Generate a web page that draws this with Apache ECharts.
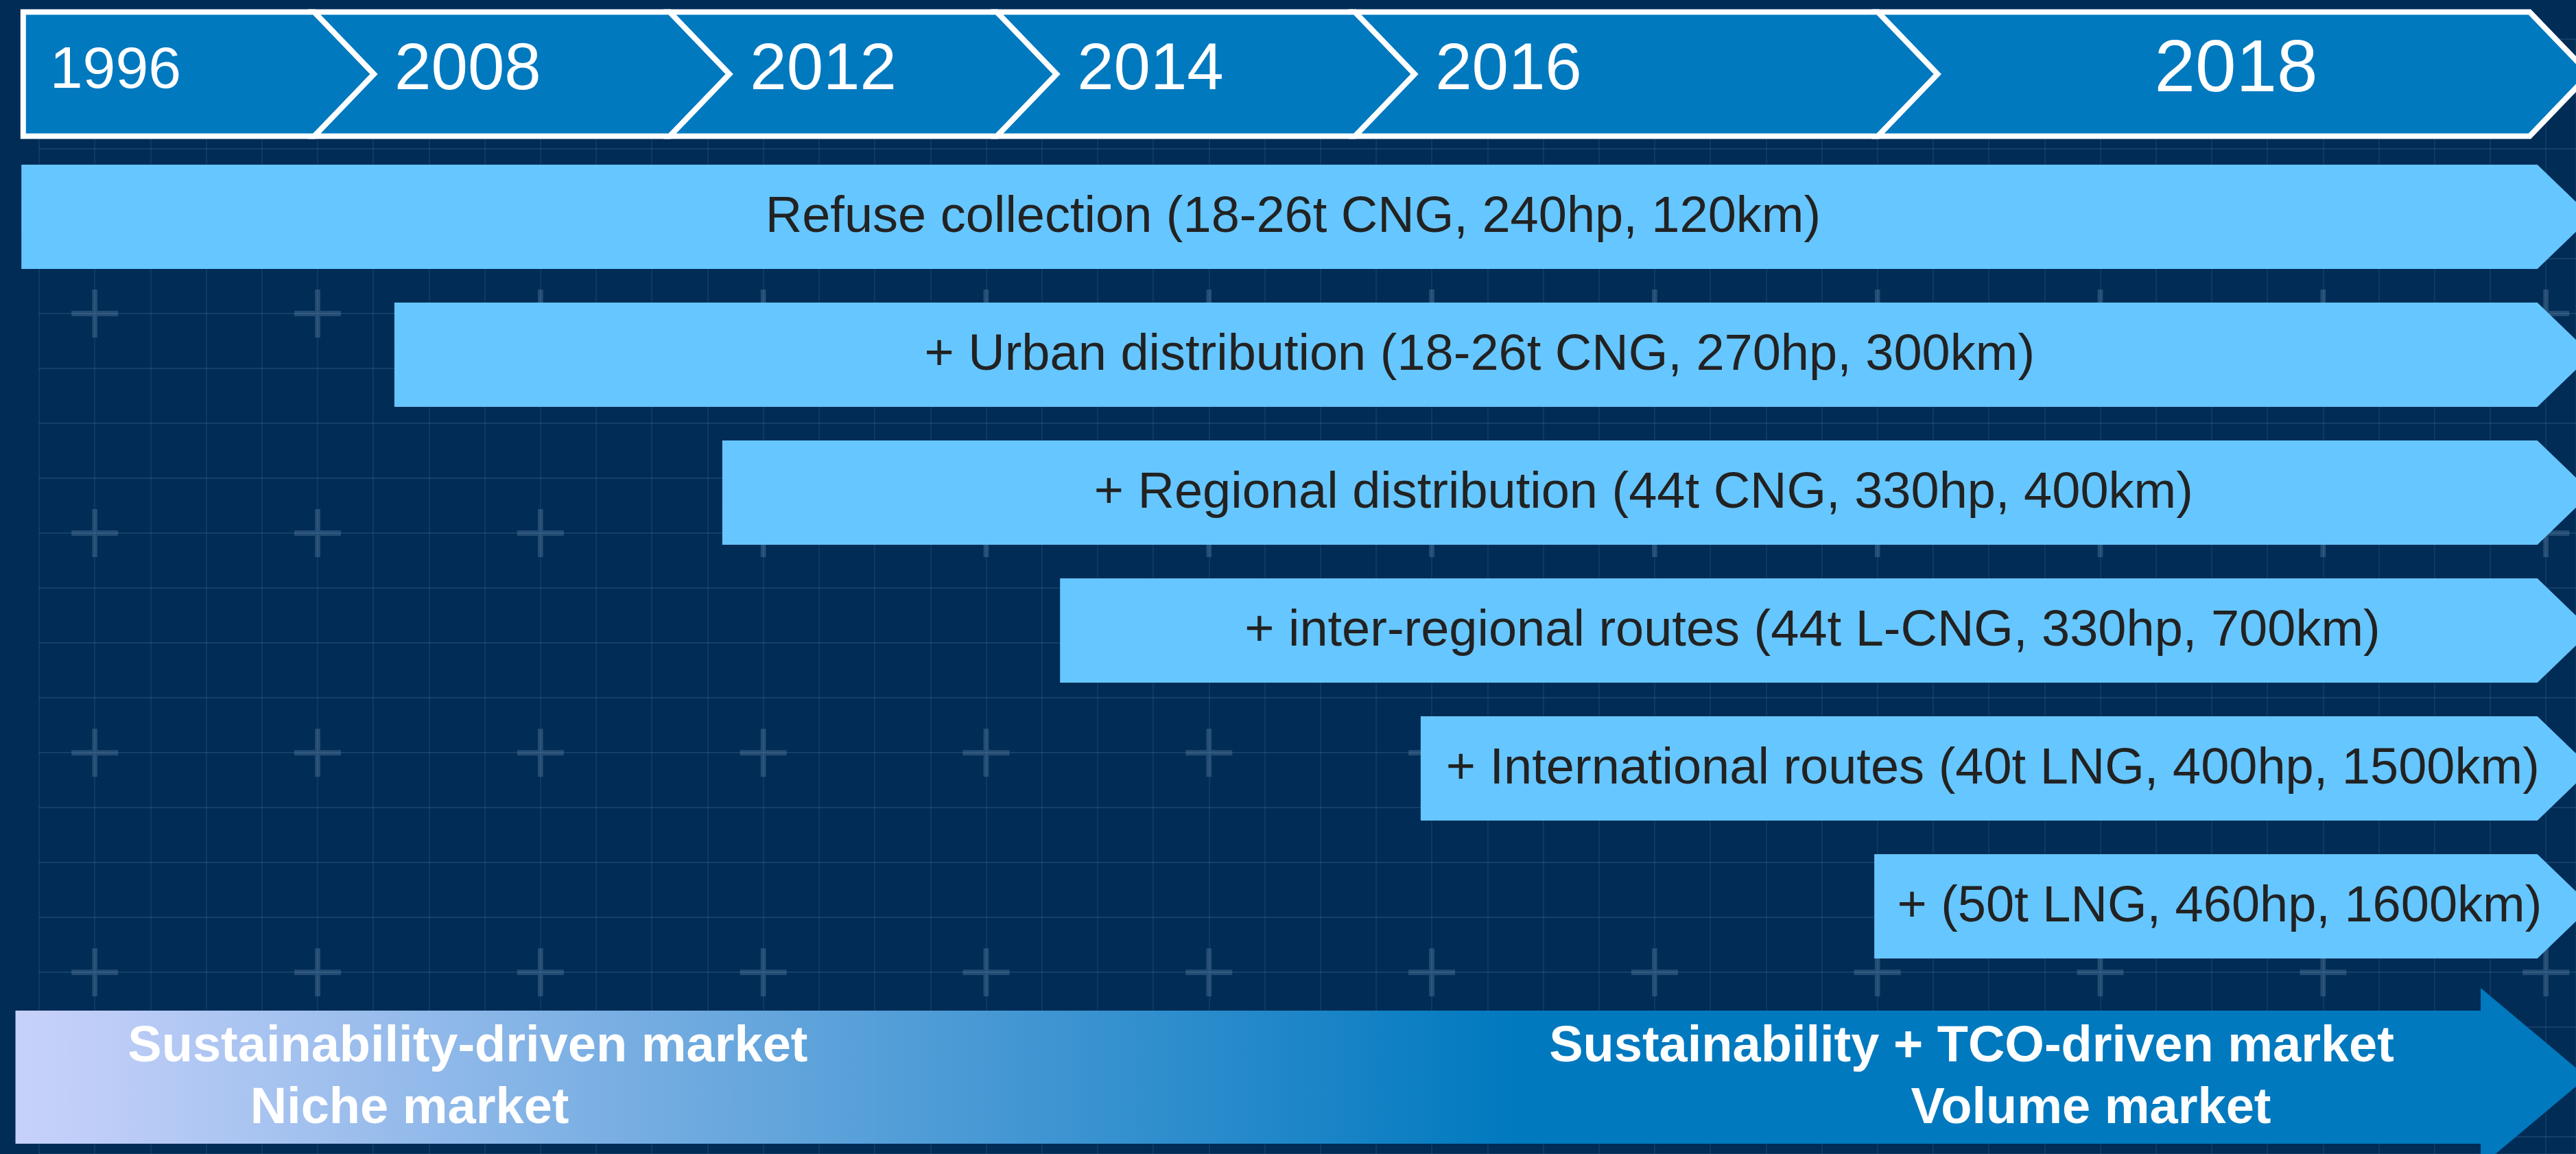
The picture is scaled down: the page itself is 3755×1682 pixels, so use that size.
<!DOCTYPE html>
<html>
<head>
<meta charset="utf-8">
<style>
html, body { margin: 0; padding: 0; background: #002C56; }
#main { width: 3755px; height: 1682px; }
</style>
<script src="https://cdn.jsdelivr.net/npm/echarts@6/dist/echarts.min.js"></script>
</head>
<body>
<div id="main"></div>
<script>
// timeline stages, x in % of page width
var years = ['1996', '2008', '2012', '2014', '2016', '2018'];
var yearStart = [0.9, 12.2, 26.0, 38.7, 52.6, 72.9];
var yearEnd = 98.2;

// applications added over time
var apps = [
    'Refuse collection (18-26t CNG, 240hp, 120km)',
    '+ Urban distribution (18-26t CNG, 270hp, 300km)',
    '+ Regional distribution (44t CNG, 330hp, 400km)',
    '+ inter-regional routes (44t L-CNG, 330hp, 700km)',
    '+ International routes (40t LNG, 400hp, 1500km)',
    '+ (50t LNG, 460hp, 1600km)'
];
var appStart = [0.83, 15.31, 28.04, 41.15, 55.15, 72.76];
var appEnd = 98.5;

// market phases
var marketText = ['Sustainability-driven market', 'Niche market', 'Sustainability + TCO-driven market', 'Volume market'];
var marketLine = [0, 1, 0, 1];
var marketX = [18.16, 15.9, 76.54, 81.17];
var marketStart = 0.6;
var marketHead = 96.3;

// background crosses, in grid cells
var crossCols = [1, 5, 9, 13, 17, 21, 25, 29, 33, 37, 41, 45];
var crossRows = [1, 5, 9, 13, 17];

var YEAR_ROW = -0.035;
var MARKET_ROW = 7.239;
var FONT = '"Liberation Sans", Arial, sans-serif';

var crossData = [];
crossRows.forEach(function (r) {
    crossCols.forEach(function (c) { crossData.push([c, r]); });
});

function renderYear(params, api) {
    var i = params.dataIndex;
    var x0 = api.coord([api.value(0), YEAR_ROW])[0];
    var x1 = api.coord([api.value(1), YEAR_ROW])[0];
    var yc = api.coord([0, YEAR_ROW])[1];
    var h = api.size([0, 0.9])[1] / 2;
    var d = 87;
    var pts = [[x0, yc - h], [x1, yc - h], [x1 + d, yc], [x1, yc + h], [x0, yc + h]];
    if (i > 0) pts.push([x0 + d, yc]);
    var last = i === years.length - 1;
    var fs = i === 0 ? 86 : (last ? 107 : 96);
    var tx = last ? (x0 + x1) / 2 + 47 : x0 + (i === 0 ? 39 : 117);
    return {
        type: 'group',
        children: [{
            type: 'polygon',
            shape: {points: pts},
            style: {fill: '#0079BF', stroke: '#ffffff', lineWidth: 8}
        }, {
            type: 'text',
            style: {
                text: years[i], x: tx, y: yc - 4, fill: '#ffffff',
                font: fs + 'px ' + FONT, align: last ? 'center' : 'left', verticalAlign: 'middle'
            }
        }]
    };
}

function renderApp(params, api) {
    var i = params.dataIndex;
    var p0 = api.coord([api.value(0), api.value(2)]);
    var x1 = api.coord([api.value(1), api.value(2)])[0];
    var x0 = p0[0], yc = p0[1];
    var h = api.size([0, 0.756])[1] / 2;
    var d = 79;
    return {
        type: 'group',
        children: [{
            type: 'polygon',
            shape: {points: [[x0, yc - h], [x1, yc - h], [x1 + d, yc], [x1, yc + h], [x0, yc + h]]},
            style: {fill: '#66C6FF'}
        }, {
            type: 'text',
            style: {
                text: apps[i], x: (x0 + x1 + 40) / 2, y: yc + 2, fill: '#222222',
                font: '74px ' + FONT, align: 'center', verticalAlign: 'middle'
            }
        }]
    };
}

function renderMarket(params, api) {
    var x0 = api.coord([api.value(0), MARKET_ROW])[0];
    var p1 = api.coord([api.value(1), MARKET_ROW]);
    var x1 = p1[0], yc = p1[1];
    var hs = 97, hh = 130, d = 155;
    return {
        type: 'polygon',
        shape: {points: [[x0, yc - hs], [x1, yc - hs], [x1, yc - hh], [x1 + d, yc], [x1, yc + hh], [x1, yc + hs], [x0, yc + hs]]},
        style: {
            fill: {
                type: 'linear', x: 0, y: 0, x2: 1, y2: 0,
                colorStops: [
                    {offset: 0, color: '#C6D1F9'},
                    {offset: 0.02, color: '#C2CFF8'},
                    {offset: 0.584, color: '#0079BF'},
                    {offset: 1, color: '#0079BF'}
                ]
            }
        }
    };
}

function renderMarketText(params, api) {
    var i = params.dataIndex;
    var p = api.coord([api.value(0), MARKET_ROW]);
    return {
        type: 'text',
        style: {
            text: marketText[i], x: p[0], y: p[1] - 43 + api.value(1) * 90, fill: '#ffffff',
            font: 'bold 74px ' + FONT, align: 'center', verticalAlign: 'middle'
        }
    };
}

var chart = echarts.init(document.getElementById('main'));
var gridLine = function (c) {
    return {show: true, lineStyle: {color: c, width: 2}};
};
var option = {
    backgroundColor: '#002C56',
    animation: false,
    grid: [
        {left: 57, top: 57, right: 0, bottom: 0},
        {left: 0, right: 0, top: 14.5, bottom: 59.5}
    ],
    xAxis: [{
        type: 'value', gridIndex: 0, min: 0, max: 45.54, interval: 1,
        axisLine: {show: false}, axisTick: {show: false}, axisLabel: {show: false},
        splitLine: gridLine('rgba(100,140,185,0.14)')
    }, {
        type: 'value', gridIndex: 1, min: 0, max: 100, show: false
    }],
    yAxis: [{
        type: 'value', gridIndex: 0, min: 0, max: 20.31, interval: 1, inverse: true,
        axisLine: {show: false}, axisTick: {show: false}, axisLabel: {show: false},
        splitLine: gridLine('rgba(100,140,185,0.2)')
    }, {
        type: 'value', gridIndex: 1, min: -0.5, max: 7.5, inverse: true, show: false
    }],
    series: [{
        type: 'scatter',
        xAxisIndex: 0, yAxisIndex: 0,
        silent: true, z: 1,
        symbol: 'path://M31,0H39V31H70V39H39V70H31V39H0V31H31Z',
        symbolSize: [68, 70],
        itemStyle: {color: 'rgba(150,175,205,0.3)'},
        data: crossData
    }, {
        type: 'custom', xAxisIndex: 1, yAxisIndex: 1, z: 3, silent: true,
        renderItem: renderYear,
        data: years.map(function (y, i) {
            return [yearStart[i], i < years.length - 1 ? yearStart[i + 1] : yearEnd];
        })
    }, {
        type: 'custom', xAxisIndex: 1, yAxisIndex: 1, z: 3, silent: true,
        renderItem: renderApp,
        data: apps.map(function (a, i) { return [appStart[i], appEnd, i + 1]; })
    }, {
        type: 'custom', xAxisIndex: 1, yAxisIndex: 1, z: 3, silent: true,
        renderItem: renderMarket,
        data: [[marketStart, marketHead]]
    }, {
        type: 'custom', xAxisIndex: 1, yAxisIndex: 1, z: 4, silent: true,
        renderItem: renderMarketText,
        data: marketText.map(function (t, i) { return [marketX[i], marketLine[i]]; })
    }]
};
chart.setOption(option);
</script>
</body>
</html>
